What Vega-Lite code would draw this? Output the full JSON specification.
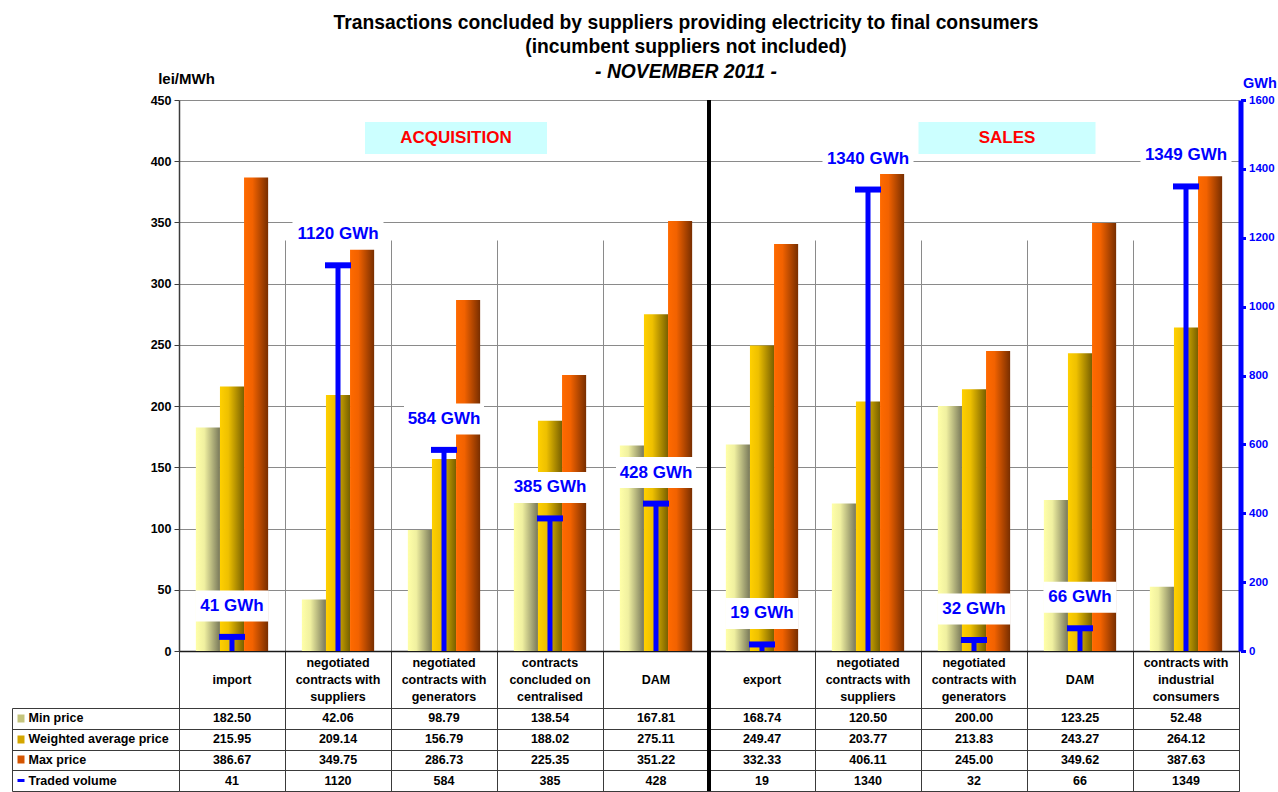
{
  "$schema": "https://vega.github.io/schema/vega-lite/v6.json",
  "background": "white",
  "padding": {"left": 11, "top": 14, "right": 0, "bottom": 0},
  "config": {
    "font": "Liberation Sans",
    "view": {"stroke": null},
    "axis": {"labelFont": "Liberation Sans", "titleFont": "Liberation Sans"},
    "title": {"font": "Liberation Sans", "subtitleFont": "Liberation Sans"}
  },
  "datasets": {
    "d": [
      {"id": "A1", "name": "import", "series": "Min price", "value": 182.50},
      {"id": "A1", "name": "import", "series": "Weighted average price", "value": 215.95},
      {"id": "A1", "name": "import", "series": "Max price", "value": 386.67},
      {"id": "A1", "name": "import", "series": "Traded volume", "value": 41},
      {"id": "A2", "name": "negotiated\ncontracts with\nsuppliers", "series": "Min price", "value": 42.06},
      {"id": "A2", "name": "negotiated\ncontracts with\nsuppliers", "series": "Weighted average price", "value": 209.14},
      {"id": "A2", "name": "negotiated\ncontracts with\nsuppliers", "series": "Max price", "value": 349.75},
      {"id": "A2", "name": "negotiated\ncontracts with\nsuppliers", "series": "Traded volume", "value": 1120},
      {"id": "A3", "name": "negotiated\ncontracts with\ngenerators", "series": "Min price", "value": 98.79},
      {"id": "A3", "name": "negotiated\ncontracts with\ngenerators", "series": "Weighted average price", "value": 156.79},
      {"id": "A3", "name": "negotiated\ncontracts with\ngenerators", "series": "Max price", "value": 286.73},
      {"id": "A3", "name": "negotiated\ncontracts with\ngenerators", "series": "Traded volume", "value": 584},
      {"id": "A4", "name": "contracts\nconcluded on\ncentralised", "series": "Min price", "value": 138.54},
      {"id": "A4", "name": "contracts\nconcluded on\ncentralised", "series": "Weighted average price", "value": 188.02},
      {"id": "A4", "name": "contracts\nconcluded on\ncentralised", "series": "Max price", "value": 225.35},
      {"id": "A4", "name": "contracts\nconcluded on\ncentralised", "series": "Traded volume", "value": 385},
      {"id": "A5", "name": "DAM", "series": "Min price", "value": 167.81},
      {"id": "A5", "name": "DAM", "series": "Weighted average price", "value": 275.11},
      {"id": "A5", "name": "DAM", "series": "Max price", "value": 351.22},
      {"id": "A5", "name": "DAM", "series": "Traded volume", "value": 428},
      {"id": "S1", "name": "export", "series": "Min price", "value": 168.74},
      {"id": "S1", "name": "export", "series": "Weighted average price", "value": 249.47},
      {"id": "S1", "name": "export", "series": "Max price", "value": 332.33},
      {"id": "S1", "name": "export", "series": "Traded volume", "value": 19},
      {"id": "S2", "name": "negotiated\ncontracts with\nsuppliers", "series": "Min price", "value": 120.50},
      {"id": "S2", "name": "negotiated\ncontracts with\nsuppliers", "series": "Weighted average price", "value": 203.77},
      {"id": "S2", "name": "negotiated\ncontracts with\nsuppliers", "series": "Max price", "value": 406.11},
      {"id": "S2", "name": "negotiated\ncontracts with\nsuppliers", "series": "Traded volume", "value": 1340},
      {"id": "S3", "name": "negotiated\ncontracts with\ngenerators", "series": "Min price", "value": 200.00},
      {"id": "S3", "name": "negotiated\ncontracts with\ngenerators", "series": "Weighted average price", "value": 213.83},
      {"id": "S3", "name": "negotiated\ncontracts with\ngenerators", "series": "Max price", "value": 245.00},
      {"id": "S3", "name": "negotiated\ncontracts with\ngenerators", "series": "Traded volume", "value": 32},
      {"id": "S4", "name": "DAM", "series": "Min price", "value": 123.25},
      {"id": "S4", "name": "DAM", "series": "Weighted average price", "value": 243.27},
      {"id": "S4", "name": "DAM", "series": "Max price", "value": 349.62},
      {"id": "S4", "name": "DAM", "series": "Traded volume", "value": 66},
      {"id": "S5", "name": "contracts with\nindustrial\nconsumers", "series": "Min price", "value": 52.48},
      {"id": "S5", "name": "contracts with\nindustrial\nconsumers", "series": "Weighted average price", "value": 264.12},
      {"id": "S5", "name": "contracts with\nindustrial\nconsumers", "series": "Max price", "value": 387.63},
      {"id": "S5", "name": "contracts with\nindustrial\nconsumers", "series": "Traded volume", "value": 1349}
    ]
  },
  "data": {"name": "d"},
  "width": 1060, "height": 691,
  "title": {
    "text": ["Transactions concluded by suppliers providing electricity to final consumers", "(incumbent suppliers not included)"],
    "subtitle": "- NOVEMBER 2011 -",
    "anchor": "middle", "frame": "group", "dx": -23,
    "fontSize": 19.3, "fontWeight": "bold", "color": "black", "lineHeight": 24,
    "subtitleFontSize": 19.3, "subtitleFontWeight": "bold", "subtitleFontStyle": "italic", "subtitleColor": "black", "subtitleLineHeight": 24, "subtitlePadding": 5,
    "offset": -11
  },
  "layer": [
    {
      "layer": [
        {
          "transform": [{"filter": "datum.series === 'Min price'"}],
          "mark": {"type": "bar", "color": {"gradient": "linear", "x1": 0, "y1": 0, "x2": 1, "y2": 0, "stops": [{"offset": 0, "color": "#FFFFA8"}, {"offset": 0.35, "color": "#F0F0A0"}, {"offset": 1, "color": "#78785A"}]}},
          "encoding": {
            "x": {"field": "id", "type": "nominal", "scale": {"type": "band", "domain": ["A1","A2","A3","A4","A5","S1","S2","S3","S4","S5"], "paddingInner": 0, "paddingOuter": 0}, "axis": {"orient": "bottom", "offset": -140, "title": null, "labels": false, "ticks": true, "tickSize": 140, "tickColor": "#3a3a3a", "tickWidth": 1, "domain": true, "domainColor": "#1a1a1a", "domainWidth": 1.5, "grid": true, "gridColor": "#8a8a8a", "gridWidth": 1, "tickBand": "extent"}},
            "xOffset": {"field": "series", "type": "nominal", "scale": {"type": "band", "domain": ["Min price", "Weighted average price", "Max price"], "paddingInner": 0, "paddingOuter": 0.7}},
            "y": {"field": "value", "type": "quantitative", "scale": {"domain": [0, 450], "range": [551, 0], "nice": false}, "axis": {"orient": "left", "values": [0, 50, 100, 150, 200, 250, 300, 350, 400, 450], "grid": true, "gridColor": "#8a8a8a", "gridWidth": 1, "domainColor": "#3c3c3c", "domainWidth": 1.5, "tickColor": "#3c3c3c", "tickSize": 5, "tickWidth": 1, "labelFontSize": 12.5, "labelFontWeight": "bold", "labelColor": "black", "labelPadding": 3, "title": "lei/MWh", "titleAngle": 0, "titleAlign": "center", "titleBaseline": "middle", "titleX": 7, "titleY": -22, "titleFontSize": 15, "titleFontWeight": "bold", "titleColor": "black"}}
          }
        },
        {
          "transform": [{"filter": "datum.series === 'Weighted average price'"}],
          "mark": {"type": "bar", "color": {"gradient": "linear", "x1": 0, "y1": 0, "x2": 1, "y2": 0, "stops": [{"offset": 0, "color": "#FFD000"}, {"offset": 0.35, "color": "#EEC000"}, {"offset": 1, "color": "#786000"}]}},
          "encoding": {
            "x": {"field": "id", "type": "nominal", "scale": {"type": "band"}},
            "xOffset": {"field": "series", "type": "nominal"},
            "y": {"field": "value", "type": "quantitative"}
          }
        },
        {
          "transform": [{"filter": "datum.series === 'Max price'"}],
          "mark": {"type": "bar", "color": {"gradient": "linear", "x1": 0, "y1": 0, "x2": 1, "y2": 0, "stops": [{"offset": 0, "color": "#FF6A00"}, {"offset": 0.35, "color": "#F26200"}, {"offset": 1, "color": "#782E00"}]}},
          "encoding": {
            "x": {"field": "id", "type": "nominal", "scale": {"type": "band"}},
            "xOffset": {"field": "series", "type": "nominal"},
            "y": {"field": "value", "type": "quantitative"}
          }
        },
        {
          "transform": [{"filter": "datum.series === 'Min price'"}],
          "mark": {"type": "text", "fontSize": 12.5, "fontWeight": "bold", "color": "black", "lineHeight": 17, "lineBreak": "\n", "baseline": "middle", "yOffset": 28.5, "dy": {"expr": "-8.5 * (length(split(datum.name, '\\n')) - 1)"}},
          "encoding": {
            "x": {"field": "id", "type": "nominal", "scale": {"type": "band"}},
            "y": {"datum": 0, "type": "quantitative"},
            "text": {"field": "name", "type": "nominal"}
          }
        },
        {
          "transform": [{"filter": "datum.id === 'S1' && datum.series === 'Min price'"}],
          "mark": {"type": "rule", "color": "black", "strokeWidth": 4},
          "encoding": {"x": {"field": "id", "type": "nominal", "scale": {"type": "band"}, "bandPosition": 0}}
        },
        {
          "data": {"values": [{}]},
          "mark": {"type": "point", "shape": "M-1,-0.1758H1V0.1758H-1Z", "size": 33124, "filled": true, "fill": "#CCFFFF", "opacity": 1, "strokeWidth": 0, "xOffset": 12},
          "encoding": {"x": {"datum": "A3", "type": "nominal", "scale": {"type": "band"}}, "y": {"datum": 419, "type": "quantitative"}}
        },
        {
          "data": {"values": [{}]},
          "mark": {"type": "text", "text": "ACQUISITION", "fontSize": 17, "fontWeight": "bold", "color": "#FF0000", "baseline": "middle", "xOffset": 12},
          "encoding": {"x": {"datum": "A3", "type": "nominal", "scale": {"type": "band"}}, "y": {"datum": 419, "type": "quantitative"}}
        },
        {
          "data": {"values": [{}]},
          "mark": {"type": "point", "shape": "M-1,-0.1808H1V0.1808H-1Z", "size": 31329, "filled": true, "fill": "#CCFFFF", "opacity": 1, "strokeWidth": 0, "xOffset": 33},
          "encoding": {"x": {"datum": "S3", "type": "nominal", "scale": {"type": "band"}}, "y": {"datum": 419, "type": "quantitative"}}
        },
        {
          "data": {"values": [{}]},
          "mark": {"type": "text", "text": "SALES", "fontSize": 17, "fontWeight": "bold", "color": "#FF0000", "baseline": "middle", "xOffset": 33},
          "encoding": {"x": {"datum": "S3", "type": "nominal", "scale": {"type": "band"}}, "y": {"datum": 419, "type": "quantitative"}}
        }
      ]
    },
    {
      "transform": [{"filter": "datum.series === 'Traded volume'"}],
      "encoding": {
        "x": {"field": "id", "type": "nominal", "scale": {"type": "band"}},
        "y": {"field": "value", "type": "quantitative", "scale": {"domain": [0, 1600], "range": [551, 0], "nice": false}, "axis": {"orient": "right", "values": [0, 200, 400, 600, 800, 1000, 1200, 1400, 1600], "format": "d", "grid": false, "domainColor": "#0000FF", "domainWidth": 5, "offset": 1.5, "tickColor": "#0000FF", "tickSize": 5, "tickWidth": 3, "labelColor": "#0000FF", "labelFontSize": 11.5, "labelFontWeight": "bold", "labelPadding": 3, "title": "GWh", "titleAngle": 0, "titleAlign": "center", "titleBaseline": "middle", "titleX": 19, "titleY": -17, "titleFontSize": 14.5, "titleFontWeight": "bold", "titleColor": "#0000FF"}}
      },
      "layer": [
        {
          "mark": {"type": "rule", "color": "#0000FF", "strokeWidth": 5},
          "encoding": {"y2": {"datum": 0}}
        },
        {
          "mark": {"type": "tick", "color": "#0000FF", "size": 26, "thickness": 6, "opacity": 1}
        },
        {
          "mark": {"type": "point", "filled": true, "fill": "white", "opacity": 1, "strokeWidth": 0, "yOffset": -31},
          "encoding": {
            "shape": {"condition": [{"test": "datum.value >= 1000", "value": "M-1,-0.3407H1V0.3407H-1Z"}, {"test": "datum.value >= 100", "value": "M-1,-0.3875H1V0.3875H-1Z"}], "value": "M-1,-0.4247H1V0.4247H-1Z"},
            "size": {"condition": [{"test": "datum.value >= 1000", "value": 8281}, {"test": "datum.value >= 100", "value": 6400}], "value": 5329}
          }
        },
        {
          "mark": {"type": "text", "text": {"expr": "datum.value + ' GWh'"}, "fontSize": 17, "fontWeight": "bold", "color": "#0000FF", "baseline": "middle", "yOffset": -31}
        }
      ]
    },
    {
      "transform": [{"filter": "datum.series !== 'Traded volume'"}],
      "mark": {"type": "text", "fontSize": 12.5, "fontWeight": "bold", "color": "black", "baseline": "middle"},
      "encoding": {
        "x": {"field": "id", "type": "nominal", "scale": {"type": "band"}},
        "y": {"field": "series", "type": "nominal", "scale": {"type": "band", "domain": ["Min price", "Weighted average price", "Max price", "Traded volume"], "range": [608, 691], "paddingInner": 0, "paddingOuter": 0}, "axis": {"orient": "left", "offset": 167, "title": null, "labels": false, "domain": true, "domainColor": "#3a3a3a", "domainWidth": 1, "ticks": true, "tickSize": -167, "tickColor": "#3a3a3a", "tickWidth": 1, "grid": true, "gridColor": "#3a3a3a", "gridWidth": 1, "tickBand": "extent"}},
        "text": {"field": "value", "type": "quantitative", "format": ".2f"}
      }
    },
    {
      "transform": [{"filter": "datum.series === 'Traded volume'"}],
      "mark": {"type": "text", "fontSize": 12.5, "fontWeight": "bold", "color": "black", "baseline": "middle"},
      "encoding": {
        "x": {"field": "id", "type": "nominal", "scale": {"type": "band"}},
        "y": {"field": "series", "type": "nominal", "scale": {"type": "band", "domain": ["Min price", "Weighted average price", "Max price", "Traded volume"], "range": [608, 691], "paddingInner": 0, "paddingOuter": 0}, "axis": {"orient": "left", "offset": 155, "title": null, "domain": false, "grid": false, "ticks": true, "tickSize": 7, "tickWidth": {"condition": {"test": "datum.value === 'Traded volume'", "value": 3}, "value": 8}, "tickColor": {"condition": [{"test": "datum.value === 'Min price'", "value": "#C4C47C"}, {"test": "datum.value === 'Weighted average price'", "value": "#D4A600"}, {"test": "datum.value === 'Max price'", "value": "#D45400"}], "value": "#0000FF"}, "labelAlign": "left", "labelBaseline": "middle", "labelPadding": -11, "labelFontSize": 12.5, "labelFontWeight": "bold", "labelColor": "black", "labelLimit": 300}},
        "text": {"field": "value", "type": "quantitative", "format": "d"}
      }
    }
  ],
  "resolve": {"scale": {"y": "independent"}, "axis": {"y": "independent"}}
}
